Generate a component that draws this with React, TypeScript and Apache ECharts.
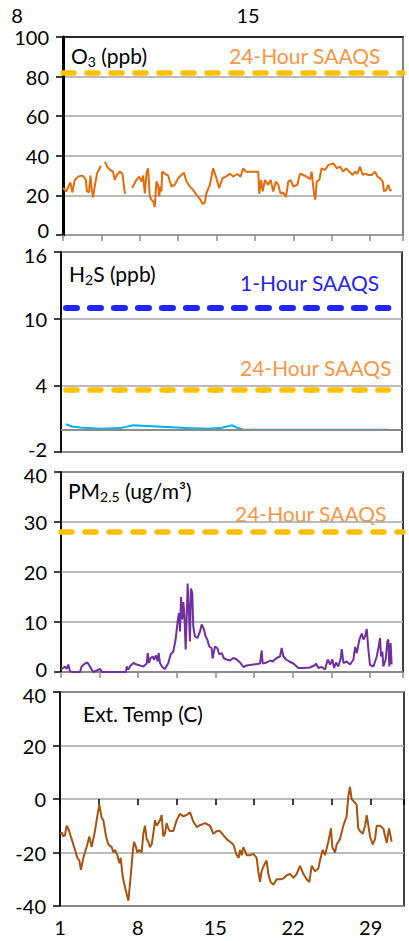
import React, { useEffect, useRef } from 'react';
import * as echarts from 'echarts';

const FONT = 'Lato, "Open Sans", sans-serif';

// x values are days since the 1st of the month (tick label = day + 1)
const xTickLabels = ['1', '8', '15', '22', '29'];

const o3Days = [0.00, 0.30, 0.67, 0.85, 1.07, 1.37, 1.67, 1.83, 2.07, 2.19, 2.37, 2.50, 2.62, 2.74, 2.89, 3.10, 3.35, 3.44, 3.60,
  3.83, 4.02, 4.26, 4.56, 4.72, 4.87, 5.17, 5.42, 5.63, 5.72, 6.00,
  6.30, 6.45, 6.69, 6.94, 7.15, 7.30, 7.46, 7.61, 7.76, 7.91, 8.06, 8.22, 8.37, 8.52, 8.67, 8.76, 8.89, 8.98,
  9.04, 9.28, 9.59, 9.74, 9.89, 10.19, 10.50, 10.80, 11.02, 11.26, 11.56, 11.87, 12.17, 12.48, 12.72, 12.93, 13.08, 13.39, 13.69, 13.94,
  14.24, 14.55, 14.85, 15.22, 15.52, 15.88, 16.19, 16.43, 16.68, 17.04, 17.35, 17.80, 17.89, 18.05, 18.20, 18.41, 18.71, 18.93, 19.17,
  19.41, 19.63, 19.84, 20.08, 20.33, 20.54, 20.75, 21.00, 21.36, 21.61, 21.91, 22.21, 22.52, 22.67, 22.88, 23.01, 23.13, 23.37, 23.58,
  23.89, 24.19, 24.65, 24.95, 25.26, 25.56, 25.80, 26.11, 26.41, 26.63, 26.84, 27.08, 27.33, 27.54, 27.84, 28.15, 28.45, 28.67, 28.91,
  29.15, 29.27, 29.46, 29.67, 29.82, 29.97];
const o3Values = [23.7, 22, 26.5, 21.5, 27.8, 29.5, 30, 29.7, 28, 22, 21.5, 30, 23, 19, 24.5, 31, 33.7, 35, null,
  37, 34.5, 33, 32, 27.8, 30, 32, 31, 21.5, 21, null,
  23.7, 25.3, 27.8, 29.5, 27, 30, 21, 31, 33.7, 19.5, 17.8, 17, 14.2, 27, 25.3, 19.5, 24.5, 22,
  32, 31, 30, 27, 24.5, 25.3, 28.7, 30.3, 31.5, 27, 24.5, 22.8, 20.3, 18.2, 15.8, 16.2, 21.2, 25.3, 33.7, 29.5,
  23.7, 28.7, 29.5, 31, 29.5, 30.8, 29.5, 33.7, 32, 32, 32, 32, 20.8, 27.8, 22, 27.8, 25.3, 27.8, 22,
  27, 25.3, 20.8, 21.5, 19.2, 27, 27.8, 24.5, 25.3, 31, 30.3, 29.5, 28.2, 32, 21, 17.8, 27, 27.8, 33.7,
  32.8, 35.3, 36.2, 33.7, 34.5, 32, 33.7, 32, 30.3, 32, 31, 34.5, 30.3, 31, 30.3, 30.3, 32, 29.5, 28.7,
  27, 22, 22.8, 25.3, 22.5, 22.8];

const h2sDays = [0.45, 0.97, 1.73, 3.55, 5.36, 6.58, 7.79, 9.61, 11.42, 13.24, 14.45, 15.58, 15.97, 16.58, 29.76];
const h2sValues = [0.5, 0.3, 0.2, 0.1, 0.15, 0.4, 0.35, 0.25, 0.15, 0.1, 0.15, 0.4, 0.2, 0, 0];

const pmDays = [0.00, 0.21, 0.36, 0.51, 0.66, 0.82, 1.12, 1.72, 1.87, 2.18, 2.39, 2.57, 2.78, 2.93, 3.54, 3.69, 4.14, 5.05, 5.89,
  5.95, 6.10, 6.32, 6.56, 6.86, 7.16, 7.47, 7.77, 7.86, 7.98, 8.13, 8.31, 8.43, 8.61, 8.76, 8.85, 8.97, 9.18, 9.42, 9.73, 9.94,
  10.18, 10.39, 10.57, 10.69, 10.79, 10.88, 11.00, 11.09, 11.18, 11.30, 11.39, 11.48, 11.60, 11.69, 11.78, 11.90, 11.99, 12.14,
  12.36, 12.60, 12.75, 12.96, 13.11, 13.26, 13.44, 13.65, 13.74, 13.96, 14.17, 14.35, 14.56, 14.78, 15.02, 15.32, 15.62, 15.93,
  16.23, 16.53, 16.83, 17.44, 18.04, 18.19, 18.28, 18.65, 18.95, 19.19, 19.55, 19.85, 20.00, 20.16, 20.40, 20.70, 21.06, 21.52,
  21.97, 22.57, 23.03, 23.12, 23.33, 23.63, 23.93, 24.18, 24.39, 24.60, 24.75, 24.93, 25.14, 25.36, 25.45, 25.60, 25.90, 26.20,
  26.51, 26.66, 26.81, 27.05, 27.26, 27.41, 27.56, 27.71, 27.86, 28.01, 28.32, 28.62, 28.77, 28.92, 29.01, 29.13, 29.22, 29.43,
  29.58, 29.67, 29.76, 29.88, 29.97];
const pmValues = [0.5, 0.8, 1.1, 0.6, 1.5, 0.1, 0, 0, 1.1, 1.7, 1.9, 1.3, 0.5, 0, 0.6, 0, 0, 0, 0,
  1.1, 0.5, 1.3, 1.8, 1.5, 1.3, 1.1, 1.7, 3.8, 1.8, 2.8, 3.1, 2.5, 3.3, 2.1, 3.8, 1.8, 1.0, 0.6, 1.8, 3.5,
  4.1, 6.5, 10.1, 11.8, 8.1, 15, 10.5, 14, 11.8, 4.5, 10.5, 17.7, 11.8, 6.1, 16.7, 15.8, 9.1, 7.1,
  6.8, 8.1, 9.5, 8.5, 7.1, 6.5, 5.1, 4.8, 2.7, 5.1, 4.8, 3.5, 3.8, 2.7, 2.5, 2.3, 2.8, 2.5,
  1.9, 1.0, 1.3, 1.5, 1.7, 4.3, 1.7, 1.9, 2.3, 2.1, 2.8, 3.1, 4.8, 3.1, 2.5, 2.1, 1.7, 0.8,
  0.8, 0.9, 1.4, 1.7, 0.8, 1.0, 0.5, 2.5, 1.5, 2.5, 0.8, 1.9, 1.1, 2.8, 4.6, 1.8, 2.1, 1.5,
  2.5, 5.0, 3.8, 6.5, 7.7, 6.5, 7.1, 8.6, 4.5, 1.4, 1.1, 3.1, 4.8, 6.8, 3.1, 4.1, 1.1, 2.5,
  6.1, 6.5, 1.1, 5.8, 1.5];

const tempDays = [0.00, 0.15, 0.30, 0.45, 0.60, 0.75, 0.90, 1.05, 1.35, 1.56, 1.74, 1.89, 2.10, 2.25, 2.46, 2.64, 2.85, 3.00,
  3.15, 3.30, 3.54, 3.75, 3.91, 4.15, 4.36, 4.66, 4.81, 4.96, 5.17, 5.35, 5.47, 5.65, 5.86, 6.16, 6.37, 6.55, 6.67, 6.85, 6.97,
  7.15, 7.36, 7.51, 7.66, 7.81, 7.96, 8.11, 8.26, 8.41, 8.56, 8.71, 9.01, 9.16, 9.31, 9.46, 9.61, 9.76, 9.91, 10.21, 10.51,
  10.81, 11.11, 11.41, 11.72, 12.02, 12.32, 12.62, 13.07, 13.52, 13.82, 14.12, 14.42, 14.72, 15.02, 15.32, 15.62, 15.92, 16.10,
  16.22, 16.37, 16.52, 16.82, 17.12, 17.42, 17.72, 17.87, 18.02, 18.17, 18.47, 18.62, 18.77, 18.98, 19.23, 19.53, 19.83, 20.13,
  20.43, 20.73, 21.03, 21.33, 21.63, 21.93, 22.23, 22.47, 22.68, 22.98, 23.28, 23.43, 23.67, 23.88, 24.18, 24.42, 24.54, 24.78,
  24.93, 25.23, 25.53, 25.83, 25.98, 26.13, 26.28, 26.49, 26.73, 26.88, 27.04, 27.28, 27.49, 27.64, 27.79, 27.94, 28.18, 28.39,
  28.54, 28.84, 29.14, 29.44, 29.65, 29.89];
const tempValues = [-13, -12.5, -14, -13.5, -10, -11, -13, -15, -19, -22, -23, -26.5, -22, -20, -17, -14, -18, -15,
  -12, -8, -2, -7, -8, -14, -17, -18, -20, -19, -21, -24, -22, -29, -33, -38, -29, -20, -16, -18, -20,
  -19, -20, -13, -10, -15, -16, -18, -17, -13, -8, -10, -8, -6, -14, -13, -9, -11, -12, -12, -8,
  -5.5, -6.5, -6, -5, -8.5, -10.5, -9.8, -9, -10, -13, -12, -12, -13.5, -15, -16, -17, -21, -22,
  -19, -21, -18, -21, -21, -20.5, -22, -27, -31, -27, -24, -23, -28, -31, -32, -30, -30, -29.7,
  -28.5, -28, -29.5, -28, -25, -28, -30, -31, -25, -27, -26, -23, -19, -21, -16, -11, -18, -20,
  -17, -15, -10, -6.5, 1, 4.5, 0, -1, -2, -11, -12, -13, -10, -6, -10, -14, -17, -15,
  -10, -10, -11, -16.5, -11, -16];

const o3Standard24h = 82;
const h2sStandard1h = 11;
const h2sStandard24h = 3.6;
const pmStandard24h = 28;
const h2sAxisShift = 2; // H2S axis runs -2..16; plotted shifted by +2 so ticks start at 0
const topStrayLabels = ['8', '15'];

const pairs = (days: number[], vals: (number | null)[], shift = 0) =>
  days.map((d, i) => [d, vals[i] === null ? '-' : (vals[i] as number) + shift]);

const GOLD = '#FFC000';
const LIGHT_ORANGE = '#F79646';
const BLUE = '#1F26F5';
const GRID_GRAY = '#A6A6A6';

function xAxis(gridIndex: number, opts: { labels?: boolean; ticks?: boolean; tickColor?: string }) {
  return {
    type: 'value', gridIndex, min: 0, max: 31, interval: 3.5,
    axisLine: { show: false },
    splitLine: { show: false },
    axisTick: { show: !!opts.ticks, length: 6, inside: false, lineStyle: { color: opts.tickColor || '#000', width: 1.5 } },
    axisLabel: {
      show: !!opts.labels, margin: 11, fontSize: 20, fontFamily: FONT, color: '#000',
      formatter: (v: number) => (v % 7 === 0 ? xTickLabels[v / 7] ?? '' : ''),
    },
  };
}

// padMin / padMax nudge the end labels apart where panels are stacked tightly
function yAxis(gridIndex: number, min: number, max: number, interval: number, lineWidth: number,
  shift = 0, padMin = 0, padMax = 0) {
  const base = { fontSize: 20, fontFamily: FONT, color: '#000' };
  return {
    type: 'value', gridIndex, min, max, interval,
    axisLine: { show: true, lineStyle: { color: '#000', width: lineWidth } },
    axisTick: { show: true, length: 7, lineStyle: { color: '#000', width: 1.5 } },
    axisLabel: {
      margin: 14, ...base,
      formatter: (v: number) => {
        const s = String(Math.round((v - shift) * 10) / 10);
        if (v === min && padMin) return `{lo|${s}}`;
        if (v === max && padMax) return `{hi|${s}}`;
        return s;
      },
      rich: {
        lo: { ...base, padding: [0, 0, padMin, 0] },
        hi: { ...base, padding: [padMax, 0, 0, 0] },
      },
    },
    splitLine: { show: true, lineStyle: { color: GRID_GRAY, width: 1.5 } },
  };
}

const dashStyle = (color: string, width: number) => ({
  type: [11, 13] as any, cap: 'round', width, color,
});

function label(x: number, y: number, text: string, color: string, rich?: any) {
  return {
    type: 'text', x, y, silent: true,
    style: {
      text, fill: color, fontSize: 21, fontFamily: FONT, align: 'left', verticalAlign: 'middle',
      rich,
    },
  };
}

const subRich = {
  sub: { fontSize: 14, fontFamily: FONT, lineHeight: 8, verticalAlign: 'bottom', fill: '#000', color: '#000' },
  n: { fontSize: 21, fontFamily: FONT, lineHeight: 26, color: '#000' },
};

export default function App() {
  const ref = useRef<HTMLDivElement>(null);
  useEffect(() => {
    const chart = echarts.init(ref.current!, undefined, { renderer: 'svg' });
    const option: any = {
      animation: false,
      backgroundColor: '#fff',
      grid: [
        { left: 63, top: 37, width: 340, height: 198, show: true, borderColor: '#808080', borderWidth: 2, backgroundColor: 'transparent' },
        { left: 61, top: 252, width: 341, height: 200, show: true, borderColor: '#000', borderWidth: 1.5, backgroundColor: 'transparent' },
        { left: 61, top: 472, width: 342, height: 200, show: true, borderColor: '#000', borderWidth: 1.5, backgroundColor: 'transparent' },
        { left: 60, top: 692, width: 344, height: 214, show: true, borderColor: '#000', borderWidth: 1.5, backgroundColor: 'transparent' },
      ],
      xAxis: [
        xAxis(0, { ticks: true, tickColor: '#8c8c8c' }),
        xAxis(1, {}),
        xAxis(2, { ticks: true, tickColor: '#8c8c8c' }),
        xAxis(3, { ticks: true, labels: true }),
        {
          type: 'value', gridIndex: 0, min: 0, max: 31, position: 'top',
          axisLine: { show: true, lineStyle: { color: '#000', width: 1.5 } },
          axisTick: { show: false }, axisLabel: { show: false }, splitLine: { show: false },
        },
      ],
      yAxis: [
        yAxis(0, 0, 100, 20, 3, 0, 10, 0),
        yAxis(1, 0, 18, 6, 1.5, h2sAxisShift, 6, 6),
        yAxis(2, 0, 40, 10, 1.5, 0, 6, 6),
        yAxis(3, -40, 40, 20, 1.5, 0, 0, 6),
      ],
      series: [
        {
          type: 'line', xAxisIndex: 0, yAxisIndex: 0, data: pairs(o3Days, o3Values),
          showSymbol: false, connectNulls: false, lineStyle: { color: '#E46C0A', width: 2 }, z: 3,
          markLine: {
            silent: true, symbol: 'none', label: { show: false },
            data: [{ yAxis: o3Standard24h, lineStyle: dashStyle(GOLD, 5.5) }],
          },
        },
        {
          type: 'line', xAxisIndex: 1, yAxisIndex: 1, data: pairs(h2sDays, h2sValues, h2sAxisShift),
          showSymbol: false, lineStyle: { color: '#00B0F0', width: 2 }, z: 3,
          markLine: {
            silent: true, symbol: 'none', label: { show: false },
            data: [
              { yAxis: h2sAxisShift, lineStyle: { type: 'solid', color: '#8c8c8c', width: 2 } },
              [
                { coord: [h2sDays[0], h2sStandard1h + h2sAxisShift], lineStyle: dashStyle(BLUE, 6) },
                { coord: [h2sDays[h2sDays.length - 1], h2sStandard1h + h2sAxisShift] },
              ],
              [
                { coord: [h2sDays[0], h2sStandard24h + h2sAxisShift], lineStyle: dashStyle(GOLD, 5.5) },
                { coord: [h2sDays[h2sDays.length - 1], h2sStandard24h + h2sAxisShift] },
              ],
            ],
          },
        },
        {
          type: 'line', xAxisIndex: 2, yAxisIndex: 2, data: pairs(pmDays, pmValues),
          showSymbol: false, lineStyle: { color: '#7030A0', width: 2 }, z: 3,
          markLine: {
            silent: true, symbol: 'none', label: { show: false },
            data: [{ yAxis: pmStandard24h, lineStyle: dashStyle(GOLD, 5.5) }],
          },
        },
        {
          type: 'line', xAxisIndex: 3, yAxisIndex: 3, data: pairs(tempDays, tempValues),
          showSymbol: false, lineStyle: { color: '#A5550F', width: 2 }, z: 3,
        },
      ],
      graphic: [
        { type: 'text', x: 17, y: 15, silent: true, style: { text: topStrayLabels[0], fill: '#000', fontSize: 20, fontFamily: FONT, align: 'center', verticalAlign: 'middle' } },
        { type: 'text', x: 248, y: 15, silent: true, style: { text: topStrayLabels[1], fill: '#000', fontSize: 20, fontFamily: FONT, align: 'center', verticalAlign: 'middle' } },
        label(71, 55, '{n|O}{sub|3}{n| (ppb)}', '#000', subRich),
        label(229, 55, '24-Hour SAAQS', LIGHT_ORANGE),
        label(69, 273, '{n|H}{sub|2}{n|S (ppb)}', '#000', subRich),
        label(240, 282, '1-Hour SAAQS', BLUE),
        label(240, 367, '24-Hour SAAQS', LIGHT_ORANGE),
        label(68, 490, '{n|PM}{sub|2.5}{n| (ug/m³)}', '#000', subRich),
        label(235, 513, '24-Hour SAAQS', LIGHT_ORANGE),
        label(83, 713, 'Ext. Temp (C)', '#000'),
      ],
    };
    chart.setOption(option);
    return () => chart.dispose();
  }, []);
  return <div ref={ref} style={{ position: 'absolute', left: 0, top: 0, width: 409, height: 941 }} />;
}
